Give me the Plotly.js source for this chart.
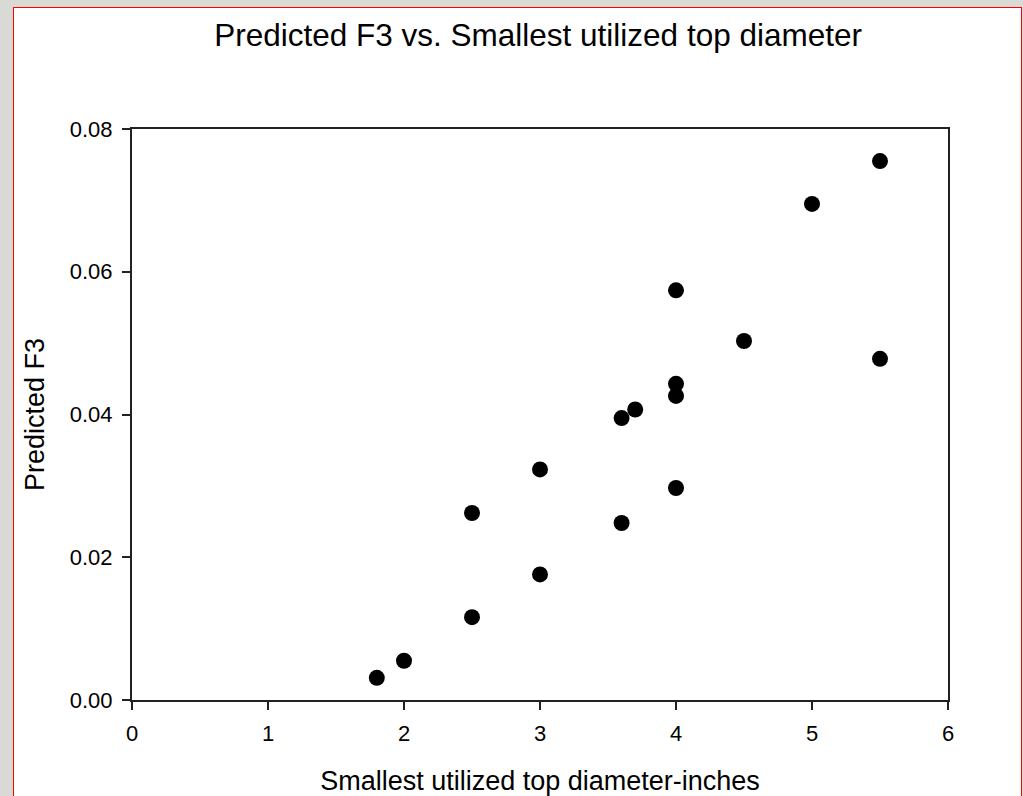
<!DOCTYPE html>
<html>
<head>
<meta charset="utf-8">
<script src="https://cdn.plot.ly/plotly-3.0.1.min.js"></script>
<style>
  html, body { margin: 0; padding: 0; width: 1023px; height: 796px; overflow: hidden; background: #d9dad6; }
  #frame { position: absolute; left: 13px; top: 7px; width: 1007px; height: 820px; background: #ffffff; border: 1px solid #ff0000; }
  #chart { position: absolute; left: 0; top: 0; width: 1023px; height: 796px; }
</style>
</head>
<body>
<div id="frame"></div>
<div id="chart"></div>
<script>
const diameter = [1.8, 2.0, 2.5, 2.5, 3.0, 3.0, 3.6, 3.6, 3.7, 4.0, 4.0, 4.0, 4.0, 4.5, 5.0, 5.5, 5.5];
const predictedF3 = [0.0031, 0.0055, 0.0116, 0.0262, 0.0176, 0.0323, 0.0248, 0.0395, 0.0407, 0.0574, 0.0443, 0.0426, 0.0297, 0.0503, 0.0695, 0.0755, 0.0478];
const xTicks = [0, 1, 2, 3, 4, 5, 6];
const yTicks = [0, 0.02, 0.04, 0.06, 0.08];
const yTickText = ['0.00', '0.02', '0.04', '0.06', '0.08'];

const FONT = 'Liberation Sans, Arial, sans-serif';
const trace = {
  x: diameter,
  y: predictedF3,
  type: 'scatter',
  mode: 'markers',
  marker: { color: '#000000', size: 16, line: { width: 0 } },
  hoverinfo: 'x+y'
};
const axisCommon = {
  showgrid: false,
  zeroline: false,
  showline: true,
  linecolor: '#222222',
  linewidth: 2,
  mirror: true,
  ticks: 'outside',
  ticklen: 8,
  tickwidth: 2,
  tickcolor: '#222222',
  tickfont: { family: FONT, size: 22, color: '#000000' }
};
const layout = {
  width: 1023,
  height: 796,
  paper_bgcolor: 'rgba(0,0,0,0)',
  plot_bgcolor: '#ffffff',
  margin: { l: 132, r: 75, t: 129, b: 96 },
  showlegend: false,
  title: {
    text: 'Predicted F3 vs. Smallest utilized top diameter',
    font: { family: FONT, size: 31.5, color: '#000000' },
    x: 0.526, xref: 'container', xanchor: 'center',
    y: 1 - 35 / 796, yref: 'container', yanchor: 'middle'
  },
  xaxis: Object.assign({}, axisCommon, {
    range: [0, 6],
    tickvals: xTicks,
    ticktext: xTicks.map(String),
    ticklabelstandoff: 5,
    title: { text: 'Smallest utilized top diameter-inches', font: { family: FONT, size: 27, color: '#000000' }, standoff: 26 },
    automargin: false
  }),
  yaxis: Object.assign({}, axisCommon, {
    range: [0, 0.08],
    tickvals: yTicks,
    ticktext: yTickText,
    ticklabelstandoff: 5,
    title: { text: 'Predicted F3', font: { family: FONT, size: 27, color: '#000000' }, standoff: 17 },
    automargin: false
  })
};
Plotly.newPlot('chart', [trace], layout, { displayModeBar: false, staticPlot: true });
</script>
</body>
</html>
